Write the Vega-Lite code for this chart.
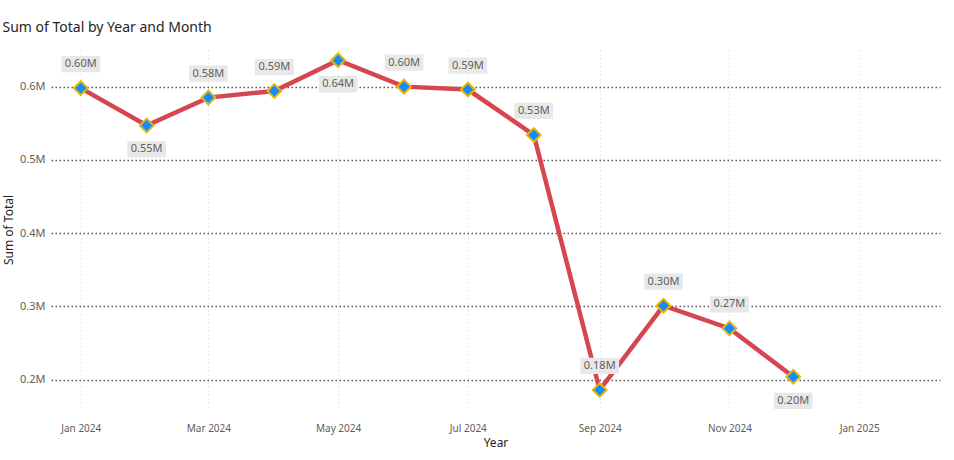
{
"$schema":"https://vega.github.io/schema/vega-lite/v6.json",
"width":954,"height":460,
"autosize":{"type":"fit","contains":"padding"},
"padding":{"left":2,"right":14,"top":22,"bottom":12},
"title":{"text":"Sum of Total by Year and Month","anchor":"start","font":"Noto Sans","fontSize":14,"fontWeight":"normal","color":"#252423","offset":14},
"config":{"view":{"stroke":null},"font":"Noto Sans"},
"data":{"values":[
{"month":"2024-01-01","total":598000,"lab":"0.60M","pos":"up"},
{"month":"2024-02-01","total":547000,"lab":"0.55M","pos":"down"},
{"month":"2024-03-01","total":585000,"lab":"0.58M","pos":"up"},
{"month":"2024-04-01","total":594000,"lab":"0.59M","pos":"up"},
{"month":"2024-05-01","total":636000,"lab":"0.64M","pos":"down"},
{"month":"2024-06-01","total":600000,"lab":"0.60M","pos":"up"},
{"month":"2024-07-01","total":596000,"lab":"0.59M","pos":"up"},
{"month":"2024-08-01","total":534000,"lab":"0.53M","pos":"up"},
{"month":"2024-09-01","total":186000,"lab":"0.18M","pos":"up"},
{"month":"2024-10-01","total":301000,"lab":"0.30M","pos":"up"},
{"month":"2024-11-01","total":270000,"lab":"0.27M","pos":"up"},
{"month":"2024-12-01","total":204000,"lab":"0.20M","pos":"down"}
]},
"encoding":{
"x":{"field":"month","type":"temporal","title":"Year","scale":{"domain":["2023-12-18","2025-02-08"]},
 "axis":{"format":"%b %Y","tickCount":{"interval":"month","step":2},"grid":true,"gridDash":[1,3],"gridColor":"#d0d0d0","domain":false,"ticks":false,"labelColor":"#605E5C","labelFontSize":10,"titleColor":"#252423","titleFontSize":12,"titleFontWeight":"normal","labelPadding":14}},
"y":{"field":"total","type":"quantitative","title":"Sum of Total","scale":{"domain":[160000,650000],"zero":false,"nice":false},
 "axis":{"values":[200000,300000,400000,500000,600000],"labelExpr":"format(datum.value/1e6,'.1f')+'M'","gridDash":[1.5,2.5],"gridColor":"#555","gridWidth":1.5,"domain":false,"ticks":false,"labelColor":"#605E5C","labelFontSize":11,"titleColor":"#252423","titleFontSize":12,"titleFontWeight":"normal","labelPadding":6}}
},
"layer":[
{"mark":{"type":"line","color":"#D64550","strokeWidth":4.5}},
{"mark":{"type":"point","shape":"diamond","filled":true,"fill":"#118DFF","stroke":"#E8B700","strokeWidth":2,"size":190,"opacity":1}},
{"transform":[{"filter":"datum.pos=='up'"}],"mark":{"type":"point","shape":"M-1,-0.42H1V0.42H-1Z","filled":true,"fill":"#e8e8e8","size":1500,"opacity":1,"yOffset":-24}},
{"transform":[{"filter":"datum.pos=='down'"}],"mark":{"type":"point","shape":"M-1,-0.42H1V0.42H-1Z","filled":true,"fill":"#e8e8e8","size":1500,"opacity":1,"yOffset":24}},
{"transform":[{"filter":"datum.pos=='up'"}],"mark":{"type":"text","fontSize":11,"color":"#605E5C","dy":-24},"encoding":{"text":{"field":"lab"}}},
{"transform":[{"filter":"datum.pos=='down'"}],"mark":{"type":"text","fontSize":11,"color":"#605E5C","dy":24},"encoding":{"text":{"field":"lab"}}},
{"transform":[{"filter":"datum.month=='2024-12-01'"}],"mark":{"type":"text","fontSize":10,"color":"#252423","align":"left","dx":17},"encoding":{"text":{"value":"Sum of Total"}}}
]
}
